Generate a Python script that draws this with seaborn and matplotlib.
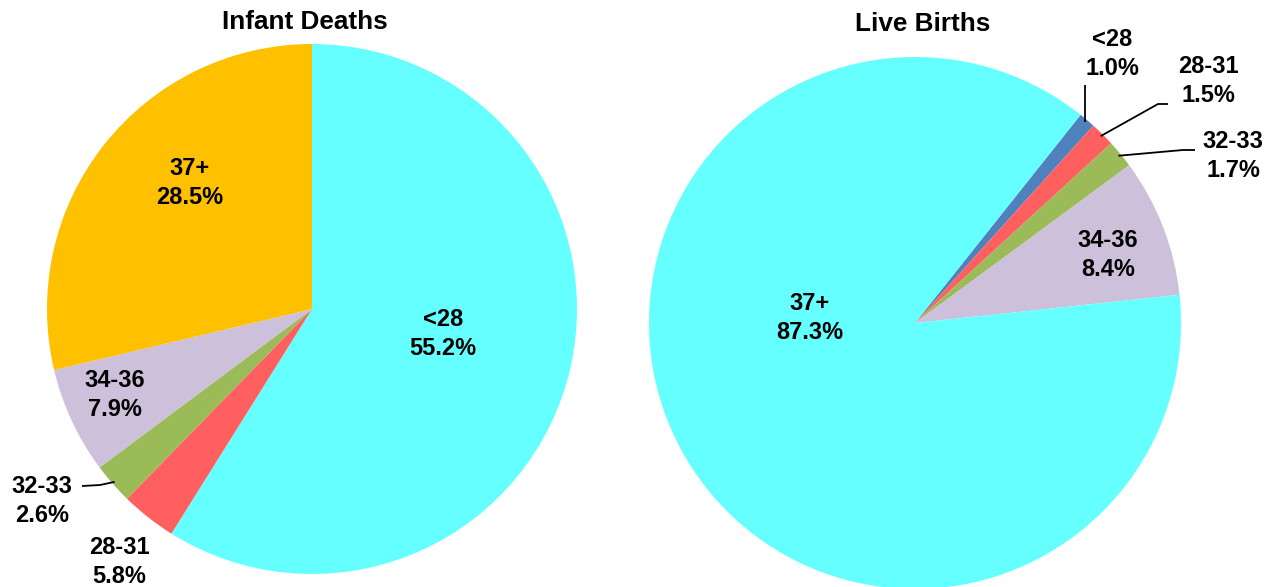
import numpy as np
import matplotlib
matplotlib.use("Agg")
import matplotlib.pyplot as plt
import seaborn as sns

# ---- data ----
groups = ["<28", "28-31", "32-33", "34-36", "37+"]
# percentages printed on the chart
infant_deaths_pct = [55.2, 5.8, 2.6, 7.9, 28.5]
live_births_pct = [1.0, 1.5, 1.7, 8.4, 87.3]
# slice shares as drawn in the picture (infant deaths slices differ from labels)
infant_deaths_slice = [58.9, 3.4, 2.5, 6.5, 28.7]
live_births_slice = [1.0, 1.5, 1.7, 8.4, 87.3]
titles = ["Infant Deaths", "Live Births"]

sns.set_theme(style="white")
plt.rcParams["font.family"] = ["Liberation Sans", "DejaVu Sans"]

W, H = 1279, 587
fig = plt.figure(figsize=(W / 100, H / 100), dpi=100)
ax = fig.add_axes([0, 0, 1, 1])

colors_left = ["#66FFFF", "#FF5F5F", "#9BBB59", "#CCC0DA", "#FFC000"]
colors_right = ["#4F81BD", "#FF5F5F", "#9BBB59", "#CCC0DA", "#66FFFF"]

def Y(y):
    return H - y

# layout (pixel coordinates, origin top-left)
pies = [
    dict(vals=infant_deaths_slice, pct=infant_deaths_pct, colors=colors_left,
         center=(312, 309), r=265, start=90, title_xy=(305, 22),
         labels={0: (443, 334), 4: (190, 183), 3: (115, 395),
                 2: (42, 501), 1: (119, 562)},
         leaders={2: [(100, 485), (82, 486)]}),
    dict(vals=live_births_slice, pct=live_births_pct, colors=colors_right,
         center=(915, 323), r=266, start=51.5, title_xy=(923, 24),
         labels={0: (1112, 54), 1: (1208, 81), 2: (1233, 156),
                 3: (1108, 255), 4: (810, 318)},
         leaders={0: [("v", 85)], 1: [(1158, 104), (1168, 104)],
                  2: [(1183, 150), (1195, 150)]}),
]

fs = 17
for p, title in zip(pies, titles):
    cx, cy = p["center"]
    wedges, _ = ax.pie(p["vals"], colors=p["colors"], startangle=p["start"],
                       counterclock=False, center=(cx, Y(cy)), radius=p["r"],
                       frame=True, wedgeprops=dict(linewidth=0))
    for i, w in enumerate(wedges):
        tx, ty = p["labels"][i]
        ax.text(tx, Y(ty), f"{groups[i]}\n{p['pct'][i]:.1f}%", ha="center",
                va="center", fontsize=fs, fontweight="bold", linespacing=1.36,
                color="black")
        if i in p["leaders"]:
            mid = np.deg2rad((w.theta1 + w.theta2) / 2)
            sx = cx + p["r"] * 0.99 * np.cos(mid)
            sy = Y(cy) + p["r"] * 0.99 * np.sin(mid)
            xs, ys = [sx], [sy]
            for pt in p["leaders"][i]:
                if pt[0] == "v":
                    xs.append(sx)
                    ys.append(Y(pt[1]))
                else:
                    xs.append(pt[0])
                    ys.append(Y(pt[1]))
            ax.plot(xs, ys, color="black", linewidth=1.3, solid_capstyle="butt")
    tx, ty = p["title_xy"]
    ax.text(tx, Y(ty), title, ha="center", va="center", fontsize=18.8,
            fontweight="bold", color="black")

ax.set_xlim(0, W)
ax.set_ylim(0, H)
ax.set_aspect("auto")
ax.axis("off")
fig.savefig("out.png", dpi=100)
